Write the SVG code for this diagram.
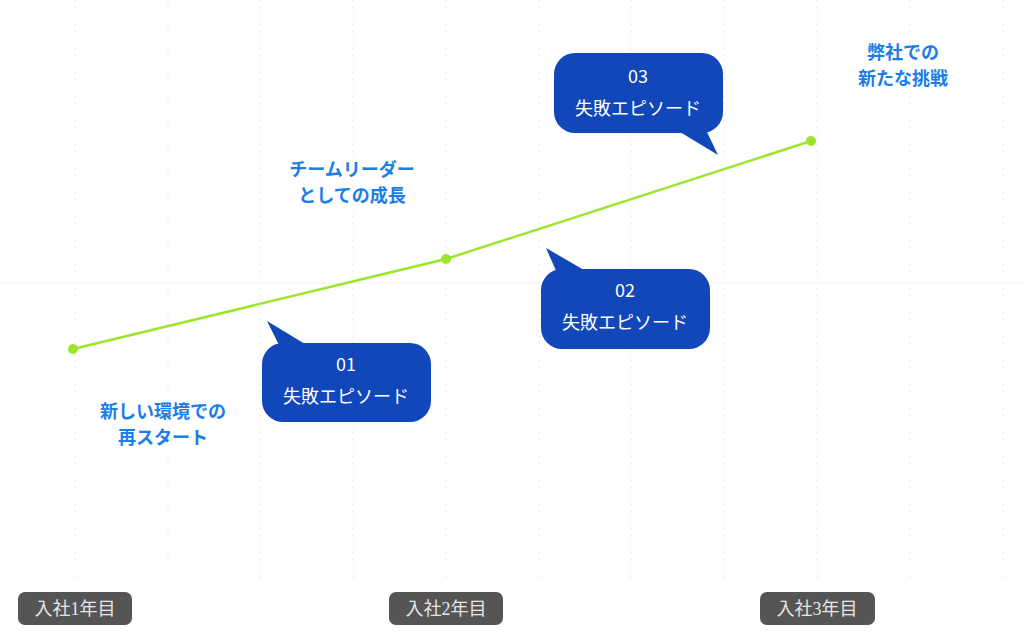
<svg xmlns="http://www.w3.org/2000/svg" width="1024" height="643" viewBox="0 0 1024 643">
<style>
.grid{stroke:#efefef;stroke-width:1.2;stroke-dasharray:2 4;fill:none}
.bub{fill:#1247ba}
.bt{fill:#ffffff;font-family:"Noto Sans CJK JP","Noto Sans",sans-serif;font-size:18px;text-anchor:middle}
.lbl{fill:#1a7ee8;font-family:"Noto Sans CJK JP",sans-serif;font-size:18px;font-weight:bold;text-anchor:middle}
.yr{fill:#555555}
.yt{fill:#e6e6e6;font-family:"Liberation Serif","Noto Sans CJK JP",serif;font-size:18px;text-anchor:middle}
.pt{fill:#9be52a}
</style>
<rect width="1024" height="643" fill="#ffffff"/>
<g id="grid">
<line class="grid" x1="75" y1="0" x2="75" y2="580"/>
<line class="grid" x1="168" y1="0" x2="168" y2="580"/>
<line class="grid" x1="260" y1="0" x2="260" y2="580"/>
<line class="grid" x1="353" y1="0" x2="353" y2="580"/>
<line class="grid" x1="446" y1="0" x2="446" y2="580"/>
<line class="grid" x1="539" y1="0" x2="539" y2="580"/>
<line class="grid" x1="631" y1="0" x2="631" y2="580"/>
<line class="grid" x1="724" y1="0" x2="724" y2="580"/>
<line class="grid" x1="817" y1="0" x2="817" y2="580"/>
<line class="grid" x1="910" y1="0" x2="910" y2="580"/>
<line class="grid" x1="1003" y1="0" x2="1003" y2="580"/>
<line x1="0" y1="283" x2="1024" y2="283" stroke="#f2f2f2" stroke-width="1"/>
</g>
<g id="connectors">
<polyline points="73,349 446,259 811,141" fill="none" stroke="#9be52a" stroke-width="2.5"/>
</g>
<g id="p1"><circle class="pt" cx="73" cy="349" r="5"/></g>
<g id="p2"><circle class="pt" cx="446" cy="259" r="5"/></g>
<g id="p3"><circle class="pt" cx="811" cy="141" r="5"/></g>
<g id="bubble01">
<rect class="bub" x="262" y="343" width="169" height="79" rx="21"/>
<polygon class="bub" points="267,321 280,347 305,344"/>
<text class="bt" x="346" y="371">01</text>
<text class="bt" x="346" y="403">失敗エピソード</text>
</g>
<g id="bubble02">
<rect class="bub" x="541" y="269" width="169" height="80" rx="21"/>
<polygon class="bub" points="546,248 557,273 584,270"/>
<text class="bt" x="625" y="297">02</text>
<text class="bt" x="625" y="329">失敗エピソード</text>
</g>
<g id="bubble03">
<rect class="bub" x="554" y="53" width="169" height="80" rx="21"/>
<polygon class="bub" points="718,155 706,130 680,132"/>
<text class="bt" x="638" y="83">03</text>
<text class="bt" x="638" y="115">失敗エピソード</text>
</g>
<g id="label1">
<text class="lbl" x="163" y="418">新しい環境での</text>
<text class="lbl" x="163" y="444">再スタート</text>
</g>
<g id="label2">
<text class="lbl" x="352" y="176">チームリーダー</text>
<text class="lbl" x="352" y="202">としての成長</text>
</g>
<g id="label3">
<text class="lbl" x="903" y="59">弊社での</text>
<text class="lbl" x="903" y="85">新たな挑戦</text>
</g>
<g id="year1">
<rect class="yr" x="18" y="592" width="114" height="33" rx="7"/>
<text class="yt" x="75" y="615">入社1年目</text>
</g>
<g id="year2">
<rect class="yr" x="389" y="592" width="114" height="33" rx="7"/>
<text class="yt" x="446" y="615">入社2年目</text>
</g>
<g id="year3">
<rect class="yr" x="760" y="592" width="115" height="33" rx="7"/>
<text class="yt" x="817" y="615">入社3年目</text>
</g>
</svg>
